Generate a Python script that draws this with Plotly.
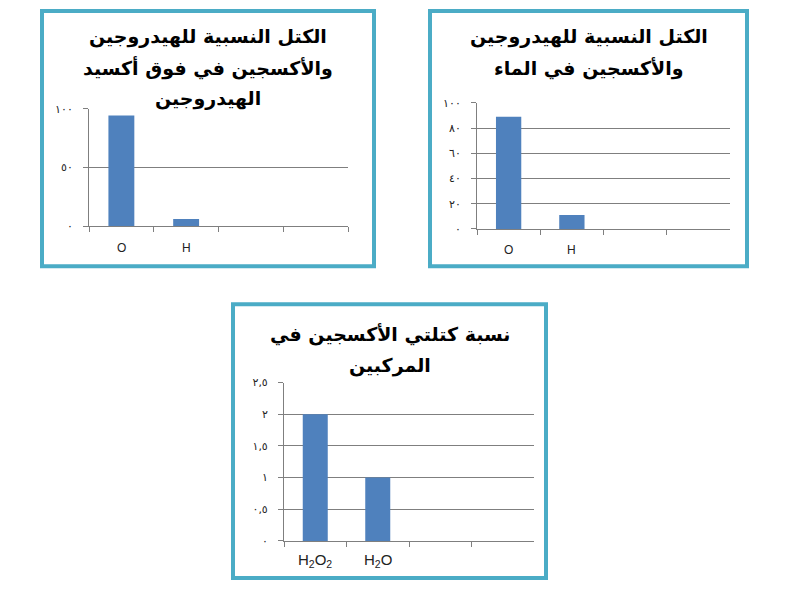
'''
    Three small bar charts: relative masses of H and O in H2O2 and H2O,
    and the ratio of oxygen masses in the two compounds.
'''
import plotly.graph_objects as go

W, H = 792, 589

# data
peroxide_labels = ["O", "H", "c3", "c4"]
peroxide_values = [94.1, 5.9, None, None]
peroxide_ticks = [0, 50, 100]
peroxide_ticktext = ["٠", "٥٠", "١٠٠"]

water_labels = ["O", "H", "c3", "c4"]
water_values = [88.9, 11.1, None, None]
water_ticks = [0, 20, 40, 60, 80, 100]
water_ticktext = ["٠", "٢٠", "٤٠", "٦٠", "٨٠", "١٠٠"]

ratio_labels = ["H<sub>2</sub>O<sub>2</sub>", "H<sub>2</sub>O", "c3", "c4"]
ratio_values = [2, 1, None, None]
ratio_ticks = [0, 0.5, 1, 1.5, 2, 2.5]
ratio_ticktext = ["٠", "٠,٥", "١", "١,٥", "٢", "٢,٥"]

peroxide_title = ["الكتل النسبية للهيدروجين", "والأكسجين في فوق أكسيد", "الهيدروجين"]
water_title = ["الكتل النسبية للهيدروجين", "والأكسجين في الماء"]
ratio_title = ["نسبة كتلتي الأكسجين في", "المركبين"]

BAR = "#4f81bd"
GRID = "#7f7f7f"
FRAME = "#4bacc6"


def px_x(v):
    return v / W


def px_y(v):
    return 1 - v / H


fig = go.Figure()

# (x, y, labels, values, ticks, ticktext, x-domain px, y-domain px, ymax, label size, label shift)
charts = [
    ("x", "y", peroxide_labels, peroxide_values, peroxide_ticks, peroxide_ticktext,
     (89, 348), (225, 105), 100, 12, 22),
    ("x2", "y2", water_labels, water_values, water_ticks, water_ticktext,
     (477, 730), (228, 99), 100, 12, 21),
    ("x3", "y3", ratio_labels, ratio_values, ratio_ticks, ratio_ticktext,
     (284, 534), (547, 385), 2.5, 15, 20),
]

for i, (xa, ya, labels, values, ticks, ticktext, xd, yd, ymax, lfs, lshift) in enumerate(charts):
    fig.add_trace(go.Bar(x=labels, y=values, marker_color=BAR,
                         marker_line_width=0, xaxis=xa, yaxis=ya,
                         showlegend=False, hoverinfo="skip"))
    suffix = "" if i == 0 else str(i + 1)
    fig.layout["xaxis" + suffix] = dict(
        domain=[px_x(xd[0]), px_x(xd[1])],
        anchor=ya,
        type="category",
        categoryorder="array",
        categoryarray=labels,
        showline=True, linecolor=GRID, linewidth=1,
        ticks="outside", tickson="boundaries", ticklen=5, tickcolor=GRID,
        showgrid=False, zeroline=False,
        showticklabels=False,
        fixedrange=True,
    )
    fig.layout["yaxis" + suffix] = dict(
        domain=[px_y(yd[0]), px_y(yd[1])],
        anchor=xa,
        range=[0, ymax],
        tickmode="array", tickvals=ticks, ticktext=ticktext,
        showline=True, linecolor=GRID, linewidth=1,
        ticks="outside", ticklen=5, tickcolor=GRID,
        showgrid=True, gridcolor=GRID, gridwidth=1,
        zeroline=False,
        tickfont=dict(family="DejaVu Sans", size=11, color="#222"),
        ticklabelstandoff=8,
        fixedrange=True,
    )
    # category labels for the two filled categories, placed on the axis
    for lab, val in zip(labels, values):
        if val is None:
            continue
        fig.add_annotation(text=lab, xref=xa, yref=ya, x=lab, y=0,
                           yanchor="middle", yshift=-lshift, showarrow=False,
                           font=dict(family="Liberation Sans, Arial", size=lfs,
                                     color="#222"))

# frames around each chart
frames = [(42, 5, 374, 266), (430, 5, 747, 266), (233, 305, 546, 585)]
for x0, y0, x1, y1 in frames:
    fig.add_shape(type="rect", xref="paper", yref="paper",
                  x0=px_x(x0), x1=px_x(x1), y0=px_y(y0), y1=px_y(y1),
                  line=dict(color=FRAME, width=4), fillcolor="rgba(0,0,0,0)")

# titles, one annotation per line
titles = [
    (peroxide_title, 208, [31, 63, 95]),
    (water_title, 589, [31, 64]),
    (ratio_title, 390, [336, 368]),
]
for lines, cx, ys in titles:
    for text, cy in zip(lines, ys):
        fig.add_annotation(text="<b>" + text + "</b>", xref="paper", yref="paper",
                           x=px_x(cx), y=px_y(cy), xanchor="center", yanchor="middle",
                           showarrow=False,
                           font=dict(family="DejaVu Sans", size=19, color="black"))

fig.update_layout(
    width=W, height=H,
    margin=dict(l=0, r=0, t=0, b=0),
    paper_bgcolor="white", plot_bgcolor="white",
    bargap=0.6,
    dragmode=False,
)

# drop the default page margin so the figure sits at the window's corner
fig.write_html("out.html", config={"displayModeBar": False},
               post_script="document.body.style.margin='0';")
